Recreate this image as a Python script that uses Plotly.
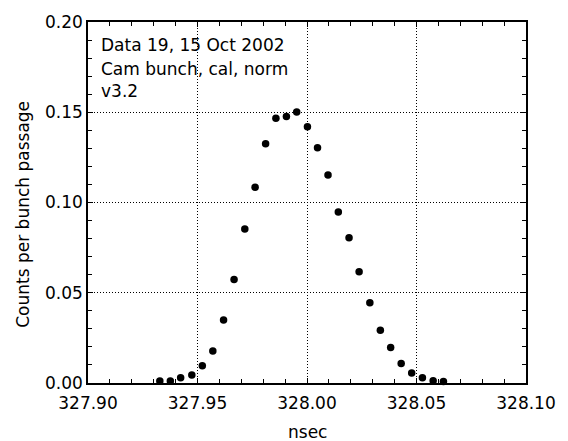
import plotly.graph_objects as go

# Bunch time profile: arrival time (ns) vs normalised counts
time_ns = [
    327.9328, 327.9376, 327.9423, 327.9474, 327.9522, 327.9570, 327.9619,
    327.9667, 327.9716, 327.9763, 327.9811, 327.9858, 327.9906, 327.9953,
    328.0002, 328.0048, 328.0096, 328.0143, 328.0192, 328.0238, 328.0287,
    328.0335, 328.0382, 328.0430, 328.0478, 328.0527, 328.0576, 328.0623,
]
counts = [
    0.0011, 0.0011, 0.0029, 0.0044, 0.0095, 0.0177, 0.0349,
    0.0574, 0.0853, 0.1085, 0.1326, 0.1467, 0.1477, 0.1501,
    0.1419, 0.1304, 0.1152, 0.0948, 0.0805, 0.0616, 0.0444,
    0.0292, 0.0196, 0.0108, 0.0056, 0.0029, 0.0013, 0.0008,
]

info_lines = ["Data 19, 15 Oct 2002", "Cam bunch, cal, norm", "v3.2"]
info_y = [0.935, 0.871, 0.808]

X_RANGE = [327.90, 328.10]
Y_RANGE = [0, 0.20]
FONT = "DejaVu Sans"

fig = go.Figure()
fig.add_trace(go.Scatter(
    x=time_ns, y=counts, mode="markers",
    marker=dict(color="black", size=7.5, symbol="circle"),
    cliponaxis=False, showlegend=False,
))
# invisible copy on the top/right axes so their tick marks are drawn
fig.add_trace(go.Scatter(
    x=time_ns, y=counts, mode="markers", xaxis="x2", yaxis="y2",
    marker=dict(opacity=0), hoverinfo="skip", showlegend=False,
))

minor_ticks = dict(dtick=0.01, ticks="inside", ticklen=4, tickwidth=1,
                   tickcolor="black", showgrid=False)

axis_common = dict(
    showline=True, linecolor="black", linewidth=1.5, mirror=True,
    ticks="inside", ticklen=5, tickwidth=1.2, tickcolor="black",
    showgrid=True, gridcolor="black", gridwidth=1, griddash="1px,2px",
    zeroline=False, tickformat=".2f",
    tickfont=dict(family=FONT, size=17, color="black"),
)

fig.update_layout(
    xaxis=dict(range=X_RANGE, tick0=327.90, dtick=0.05, minor=minor_ticks,
               ticklabelstandoff=4, **axis_common),
    yaxis=dict(range=Y_RANGE, tick0=0, dtick=0.05, minor=minor_ticks,
               **axis_common),
    xaxis2=dict(range=X_RANGE, tick0=327.90, dtick=0.05, overlaying="x",
                side="top", anchor="y2", showticklabels=False, showgrid=False,
                zeroline=False, showline=False, ticks="inside", ticklen=5,
                tickwidth=1.2, tickcolor="black", minor=minor_ticks),
    yaxis2=dict(range=Y_RANGE, tick0=0, dtick=0.05, overlaying="y",
                side="right", anchor="x2", showticklabels=False, showgrid=False,
                zeroline=False, showline=False, ticks="inside", ticklen=5,
                tickwidth=1.2, tickcolor="black", minor=minor_ticks),
)

for txt, yy in zip(info_lines, info_y):
    fig.add_annotation(
        text=txt, xref="paper", yref="paper", x=0.024, y=yy,
        xanchor="left", yanchor="middle", showarrow=False,
        font=dict(family=FONT, size=17, color="black"),
    )

fig.add_annotation(
    text="nsec", xref="paper", yref="paper", x=0.5, y=-0.137,
    xanchor="center", yanchor="middle", showarrow=False,
    font=dict(family=FONT, size=17, color="black"),
)
fig.add_annotation(
    text="Counts per bunch passage", xref="paper", yref="paper", x=-0.149, y=0.468,
    xanchor="center", yanchor="middle", textangle=-90, showarrow=False,
    font=dict(family=FONT, size=17, color="black"),
)

fig.update_layout(
    width=568, height=441,
    margin=dict(l=88, r=31, t=18, b=58),
    paper_bgcolor="white", plot_bgcolor="white",
)

fig.write_html("out.html")
